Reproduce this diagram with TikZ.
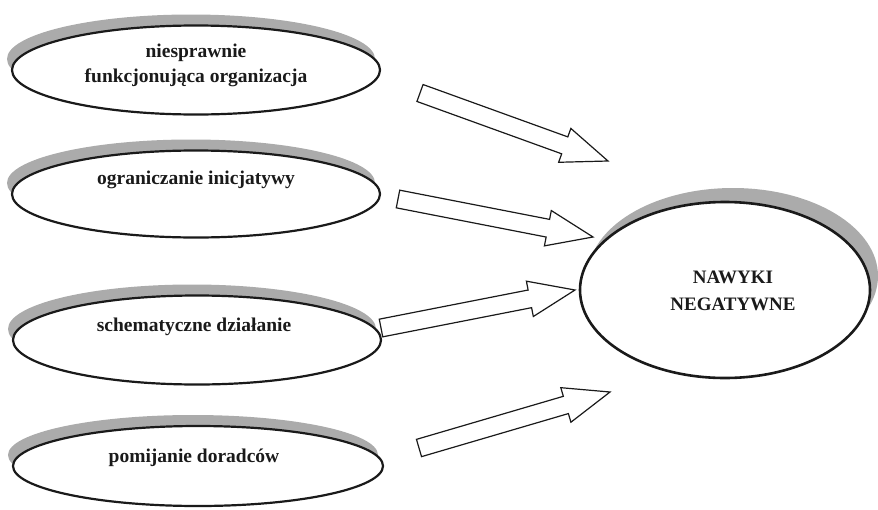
\documentclass[tikz,border=0pt]{standalone}
\usepackage{fontspec}
\setmainfont{Liberation Serif}
\usepackage{xcolor}
\usepackage{tikz}
\usetikzlibrary{calc,shapes.geometric,shadows}
\definecolor{ink}{HTML}{1A1A1A}
\definecolor{shade}{HTML}{ABABAB}
\tikzset{
  oval/.style={ellipse, draw=ink, line width=2.2pt, fill=white, inner sep=0pt,
    minimum width=368pt, minimum height=89pt,
    drop shadow={shadow xshift=-5pt, shadow yshift=11pt, fill=shade, opacity=1}},
  bigoval/.style={ellipse, draw=ink, line width=2.6pt, fill=white, inner sep=0pt,
    minimum width=290pt, minimum height=176pt,
    drop shadow={shadow xshift=8pt, shadow yshift=14pt, fill=shade, opacity=1}},
  txt/.style={text=ink, font=\fontsize{19.5}{25}\selectfont\bfseries, align=center, inner sep=0pt},
  bigtxt/.style={text=ink, font=\fontsize{19}{27.4}\selectfont\bfseries, align=center, inner sep=0pt},
  blockarr/.style={draw=ink, line width=1.2pt, fill=white, line join=miter},
}
% hollow block arrow from tail #1 to tip #2
\newcommand{\blockarrow}[2]{%
  \coordinate (hb) at ($(#2)!46pt!(#1)$);
  \draw[blockarr] ($(#1)!9pt!90:(#2)$) -- ($(hb)!9pt!90:(#2)$) -- ($(hb)!18pt!90:(#2)$)
    -- (#2) -- ($(hb)!18pt!-90:(#2)$) -- ($(hb)!9pt!-90:(#2)$) -- ($(#1)!9pt!-90:(#2)$) -- cycle;
}

\begin{document}
\begin{tikzpicture}[x=1pt, y=-1pt]
  \useasboundingbox (0,0) rectangle (878,509);

  \node[oval] (org) at (196,70) {};
  \node[oval, minimum height=87pt] (inic) at (196,194) {};
  \node[oval] (schem) at (197,340) {};
  \node[oval, minimum width=370pt, minimum height=80pt] (dorad) at (198,466) {};
  \node[bigoval] (nawyki) at (725,290) {};

  \node[txt] (org-t) at (196,65) {niesprawnie\\funkcjonująca organizacja};
  \node[txt] (inic-t) at (196,180) {ograniczanie inicjatywy};
  \node[txt] (schem-t) at (194,327) {schematyczne działanie};
  \node[txt] (dorad-t) at (194,458) {pomijanie doradców};
  \node[bigtxt] (nawyki-t) at (733,291) {NAWYKI\\NEGATYWNE};

  % arrow tails and tips
  \coordinate (T1) at (420,93);
  \coordinate (H1) at (608,161);
  \coordinate (T2) at (398,199);
  \coordinate (H2) at (593,237);
  \coordinate (T3) at (381,328);
  \coordinate (H3) at (575,290);
  \coordinate (T4) at (419,448);
  \coordinate (H4) at (610,392);

  \blockarrow{T1}{H1}
  \blockarrow{T2}{H2}
  \blockarrow{T3}{H3}
  \blockarrow{T4}{H4}
\end{tikzpicture}
\end{document}
